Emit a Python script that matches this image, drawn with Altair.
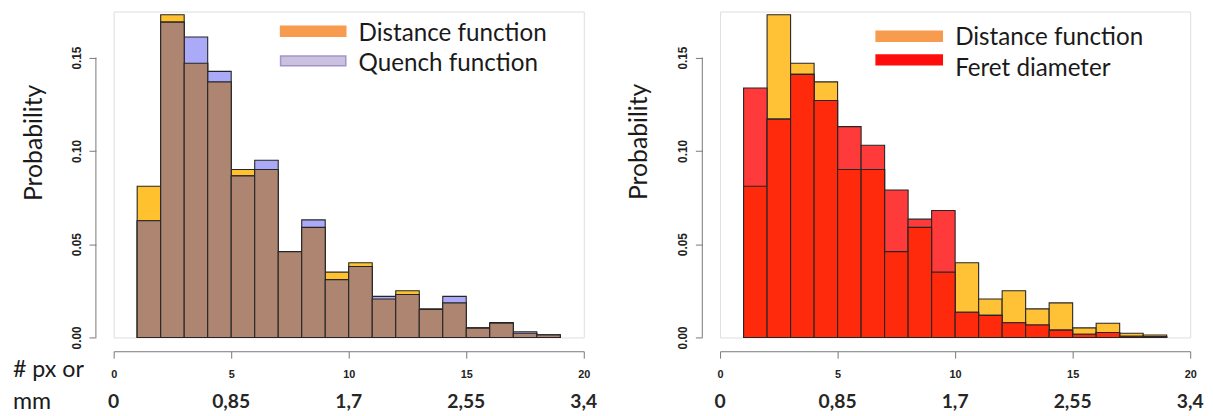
import altair as alt
import pandas as pd

# ---- data ----
bin_start = list(range(1, 19))
bin_end = list(range(2, 20))
distance = [0.081, 0.173, 0.147, 0.137, 0.090, 0.090, 0.046, 0.059, 0.035,
            0.040, 0.0206, 0.025, 0.0153, 0.0185, 0.0051, 0.0076, 0.0022, 0.0013]
quench = [0.0625, 0.169, 0.161, 0.1426, 0.0866, 0.095, 0.046, 0.063, 0.031,
          0.038, 0.022, 0.023, 0.015, 0.022, 0.005, 0.008, 0.003, 0.0014]
feret = [0.1337, 0.117, 0.141, 0.127, 0.113, 0.103, 0.079, 0.0634, 0.068,
         0.0135, 0.0118, 0.0079, 0.0067, 0.0039, 0.0017, 0.0026, 0.0006, 0.0004]

x_ticks = [0, 5, 10, 15, 20]
mm_labels = ["0", "0,85", "1,7", "2,55", "3,4"]
y_ticks = [0.0, 0.05, 0.10, 0.15]
unit_captions = ["# px or", "mm"]
y_title = ["Probability"]
legend_left = ["Distance function", "Quench function"]
legend_right = ["Distance function", "Feret diameter"]

FONT = "Lato"
TICKFONT = "Liberation Sans"
W, H = 476, 330
YMAX = 0.1747

df = pd.DataFrame({"x0": bin_start, "x1": bin_end,
                   "dist": distance, "quench": quench, "feret": feret})
ticks_df = pd.DataFrame({"x0": x_ticks, "lab": mm_labels})
yline_df = pd.DataFrame({"y0": [y_ticks[0]], "y1": [y_ticks[-1]]})

xscale = alt.Scale(domain=[0, 20], nice=False, zero=False)
yscale = alt.Scale(domain=[0, YMAX], nice=False)

x_axis = alt.Axis(values=x_ticks, title=None, offset=14, tickSize=7,
                  labelFont=TICKFONT, labelFontSize=11, labelFontWeight="bold",
                  labelColor="#222", labelPadding=11, labelFlush=False,
                  labelOverlap=False, domainColor="#777",
                  tickColor="#777", grid=False, format="d")
y_axis = alt.Axis(values=y_ticks, title=None, offset=18, domain=False,
                  tickSize=7, tickColor="#777", labelAngle=270,
                  labelAlign="center", labelBaseline="alphabetic",
                  labelPadding=9, labelFont=TICKFONT, labelFontSize=12,
                  labelFontWeight="bold", labelColor="#222", format=".2f",
                  labelFlush=False, labelOverlap=False, grid=False)

X = lambda f: alt.X(f, scale=xscale, axis=x_axis)
Y = lambda f: alt.Y(f, scale=yscale, axis=y_axis)


def bars(field, color):
    return alt.Chart(df).mark_rect(fill=color, stroke="#262626",
                                   strokeWidth=1.1).encode(
        x=X("x0:Q"), x2="x1:Q", y=Y(f"{field}:Q"), y2=alt.datum(0))


def overlap(field_a, field_b, color):
    return alt.Chart(df).transform_calculate(
        ov=f"min(datum.{field_a}, datum.{field_b})"
    ).mark_rect(fill=color, stroke="#262626", strokeWidth=1.1).encode(
        x=X("x0:Q"), x2="x1:Q", y=Y("ov:Q"), y2=alt.datum(0))


def common(title_x, title_y):
    yline = alt.Chart(yline_df).mark_rule(color="#777", strokeWidth=1).encode(
        x=alt.value(-18), y=Y("y0:Q"), y2="y1:Q")
    mm = alt.Chart(ticks_df).mark_text(
        font=FONT, fontSize=19.5, fontWeight="bold", color="#262626",
        baseline="alphabetic", align="center").encode(
        x=X("x0:Q"), y=alt.value(401), text="lab:N")
    ytitle = alt.Chart(pd.DataFrame({"t": y_title})).mark_text(
        font=FONT, fontSize=25, color="#1a1a1a", angle=270,
        align="center", baseline="middle").encode(
        x=alt.value(title_x), y=alt.value(title_y), text="t:N")
    return [yline, mm, ytitle]


def legend(labels, colors, sw_x, sw_y, txt_x, txt_y, strokes):
    layers = []
    for lab, col, sy, ty, stk in zip(labels, colors, sw_y, txt_y, strokes):
        layers.append(alt.Chart(pd.DataFrame({"t": [lab]})).mark_rect(
            fill=col, stroke=stk, strokeWidth=1.5, opacity=0.95).encode(
            x=alt.value(sw_x[0]), x2=alt.value(sw_x[1]),
            y=alt.value(sy - 5), y2=alt.value(sy + 5)))
        layers.append(alt.Chart(pd.DataFrame({"t": [lab]})).mark_text(
            font=FONT, fontSize=24.5, color="#1a1a1a", align="left",
            baseline="alphabetic").encode(
            x=alt.value(txt_x), y=alt.value(ty), text="t:N"))
    return layers


captions = [
    alt.Chart(pd.DataFrame({"t": [unit_captions[0]]})).mark_text(
        font=FONT, fontSize=23.5, color="#1a1a1a", align="left",
        baseline="alphabetic").encode(x=alt.value(-102), y=alt.value(370),
                                      text="t:N"),
    alt.Chart(pd.DataFrame({"t": [unit_captions[1]]})).mark_text(
        font=FONT, fontSize=23.5, color="#1a1a1a", align="left",
        baseline="alphabetic").encode(x=alt.value(-102), y=alt.value(402),
                                      text="t:N"),
]

left = alt.layer(
    bars("dist", "#FFC22E"),
    bars("quench", "#AAAAF8"),
    overlap("dist", "quench", "#AE8571"),
    *common(-81, 133),
    *legend(legend_left, ["#F79646", "#C8BEDF"], (169, 235), (20, 50),
            248, (30, 60), ["#F79646", "#A08EC4"]),
    *captions,
).properties(width=W, height=H)

right = alt.layer(
    bars("dist", "#FFC136"),
    bars("feret", "#FF3A3A"),
    overlap("dist", "feret", "#FF2A0C"),
    *common(-82, 132),
    *legend(legend_right, ["#F79646", "#FF0000"], (158, 225), (25, 49),
            238, (34, 65), ["#F79646", "#FF0000"]),
).properties(width=W, height=H)

chart = alt.hconcat(left, right, spacing=138, bounds="flush").properties(
    padding={"left": 4, "top": 0, "right": 0, "bottom": 0}
).configure_view(strokeWidth=0).configure(background="white")

chart.save("out.html", embed_options={"renderer": "svg", "actions": False})
